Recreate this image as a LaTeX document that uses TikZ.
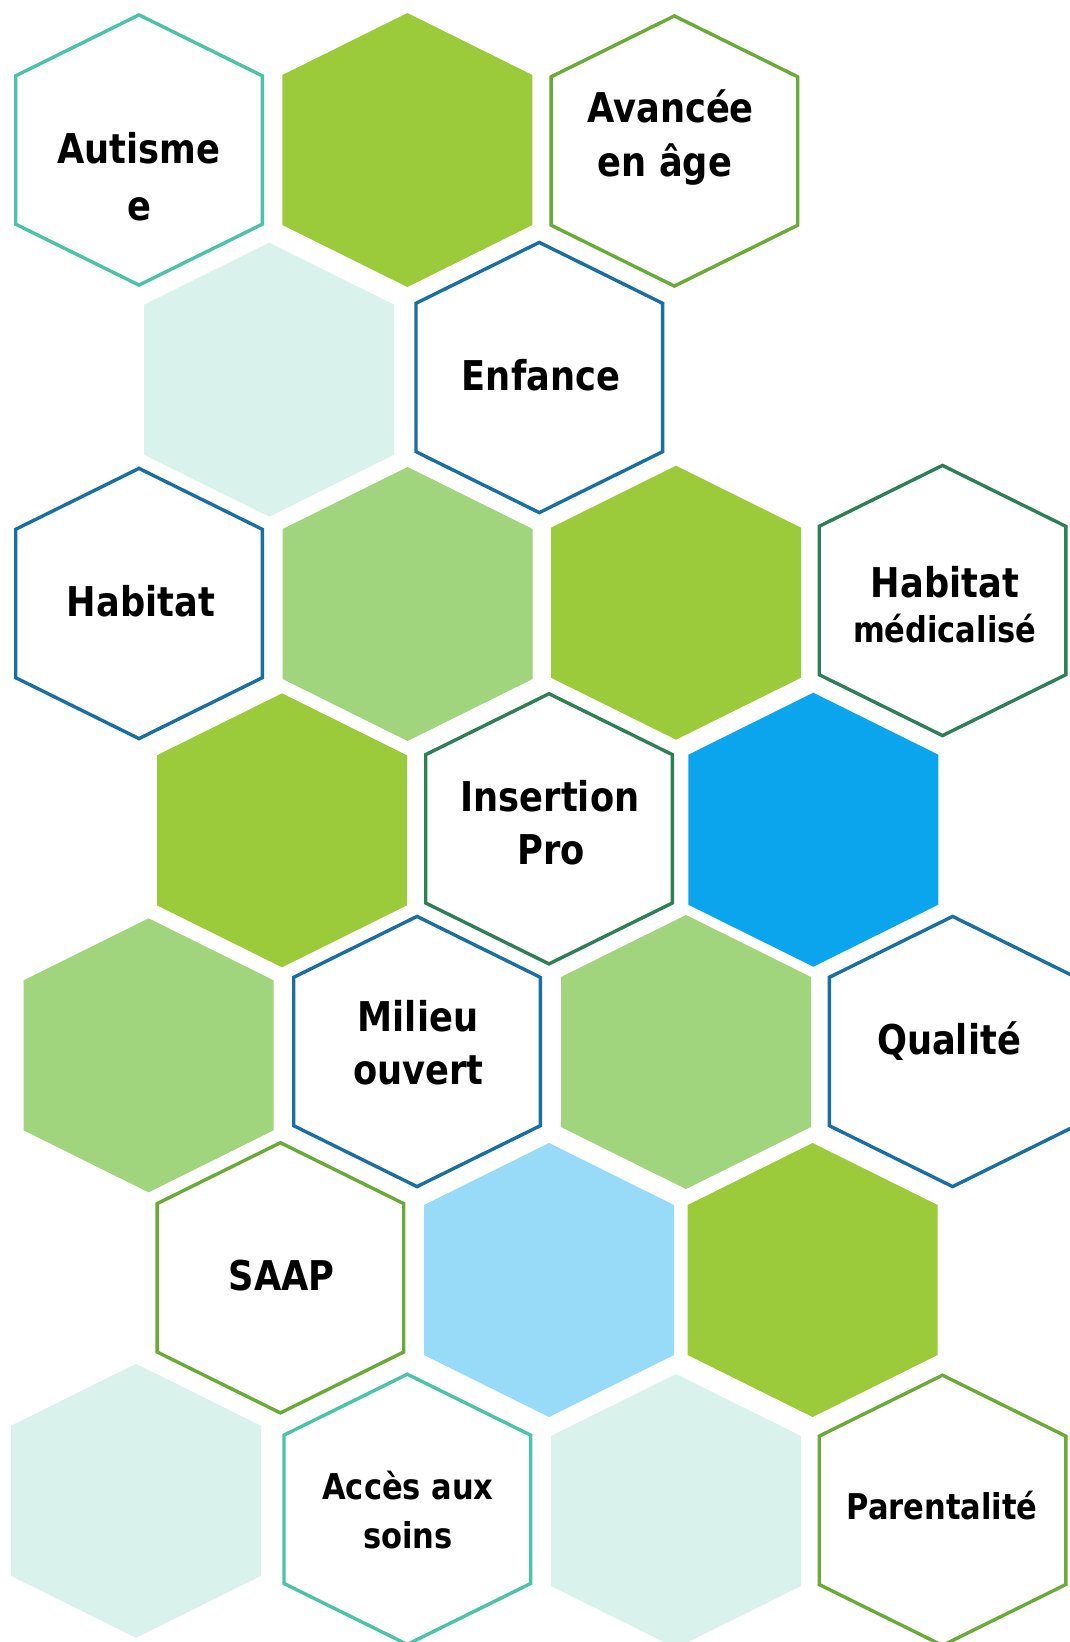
\documentclass[tikz,border=0pt]{standalone}
\usepackage{fontspec}
\newfontfamily\hexfont{DejaVu Sans}[FakeStretch=0.86]
\definecolor{gfill}{HTML}{9BCB3A}
\definecolor{lgfill}{HTML}{A0D47D}
\definecolor{cyfill}{HTML}{D9F2EB}
\definecolor{bfill}{HTML}{0AA5EC}
\definecolor{lbfill}{HTML}{97DBF9}
\definecolor{tealline}{HTML}{4CC3A8}
\definecolor{greenline}{HTML}{6AAB38}
\definecolor{blueline}{HTML}{1A6FA2}
\definecolor{dgreenline}{HTML}{2E7F55}
\begin{document}
\begin{tikzpicture}[x=1pt,y=1pt,
  hexfill/.pic={\path[pic actions] (0,137)--(125,75)--(125,-75)--(0,-137)--(-125,-75)--(-125,75)--cycle;},
  hexline/.pic={\path[pic actions] (0,135.1)--(123.3,74.2)--(123.3,-74.2)--(0,-135.1)--(-123.3,-74.2)--(-123.3,74.2)--cycle;},
  filled/.style={fill=#1},
  outl/.style={draw=#1, fill=white, line width=3.4pt, line join=miter},
  lbl/.style={font={\hexfont\bfseries\fontsize{41}{49}\selectfont}, inner sep=0pt, anchor=base, text=black},
  slbl/.style={font={\hexfont\bfseries\fontsize{35.5}{42}\selectfont}, inner sep=0pt, anchor=base, text=black}]
\useasboundingbox (0,0) rectangle (1070,-1642);
% row 1
\pic (hAut) [outl=tealline] at (139,-150) {hexline};
\pic (f1) [filled=gfill] at (407.4,-150) {hexfill};
\pic (hAva) [outl=greenline] at (674.4,-151) {hexline};
% row 2
\pic (f2) [filled=cyfill] at (269.2,-379.7) {hexfill};
\pic (hEnf) [outl=blueline] at (539.3,-377.5) {hexline};
% row 3
\pic (hHab) [outl=blueline] at (139,-603.5) {hexline};
\pic (f3) [filled=lgfill] at (407.6,-604) {hexfill};
\pic (f4) [filled=gfill] at (676,-602.7) {hexfill};
\pic (hMed) [outl=dgreenline] at (942.5,-600.5) {hexline};
% row 4
\pic (f5) [filled=gfill] at (282,-830.3) {hexfill};
\pic (hIns) [outl=dgreenline] at (549,-828.8) {hexline};
\pic (f6) [filled=bfill] at (813.3,-829.7) {hexfill};
% row 5
\pic (f7) [filled=lgfill] at (148.6,-1055.3) {hexfill};
\pic (hMil) [outl=blueline] at (417,-1051.5) {hexline};
\pic (f8) [filled=lgfill] at (686,-1052) {hexfill};
\pic (hQua) [outl=blueline] at (952.6,-1051.5) {hexline};
% row 6
\pic (hSaa) [outl=greenline] at (280.4,-1277.8) {hexline};
\pic (f9) [filled=lbfill] at (549,-1280) {hexfill};
\pic (f10) [filled=gfill] at (812.6,-1280) {hexfill};
% row 7
\pic (f11) [filled=cyfill] at (136,-1500.8) {hexfill};
\pic (hAcc) [outl=tealline] at (407.3,-1509.3) {hexline};
\pic (f12) [filled=cyfill] at (676,-1511) {hexfill};
\pic (hPar) [outl=greenline] at (942.5,-1510.3) {hexline};
% labels
\node[lbl] (tAut1) at (139,-163.3) {Autisme};
\node[lbl] (tAut2) at (139,-220) {e};
\node[lbl] (tAva1) at (670.5,-122.7) {Avancée};
\node[lbl] (tAva2) at (665,-176) {en âge};
\node[lbl] (tEnf) at (541,-390.7) {Enfance};
\node[lbl] (tHab) at (141,-616.7) {Habitat};
\node[lbl] (tMed1) at (945,-597.3) {Habitat};
\node[slbl] (tMed2) at (944.7,-642) {médicalisé};
\node[lbl] (tIns1) at (550,-811.7) {Insertion};
\node[lbl] (tIns2) at (551,-864) {Pro};
\node[lbl] (tMil1) at (418,-1031.7) {Milieu};
\node[lbl] (tMil2) at (418.3,-1084.3) {ouvert};
\node[lbl] (tQua) at (949,-1054) {Qualité};
\node[lbl] (tSaa) at (281.6,-1290.7) {SAAP};
\node[slbl] (tAcc1) at (408,-1499) {Accès aux};
\node[slbl] (tAcc2) at (408,-1548.3) {soins};
\node[slbl] (tPar) at (942,-1519) {Parentalité};
\end{tikzpicture}
\end{document}
